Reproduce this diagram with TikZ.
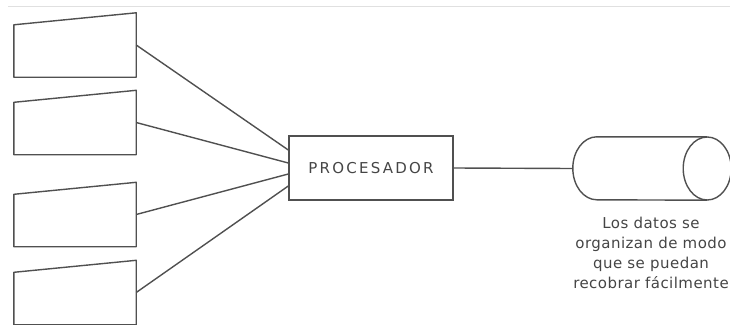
\documentclass[tikz,border=0pt]{standalone}
\usepackage{fontspec}
\setmainfont{DejaVu Sans}
\newfontfamily\procfont[LetterSpace=15]{DejaVu Sans}
\newfontfamily\notafont[LetterSpace=3]{DejaVu Sans}
\usetikzlibrary{calc}
\definecolor{trazo}{HTML}{505050}
\definecolor{texto}{HTML}{454545}

\begin{document}
\begin{tikzpicture}[
  x=1pt, y=1pt,
  entrada/.style={rectangle, minimum width=122pt, minimum height=64pt, inner sep=0pt},
  proc/.style={rectangle, draw=trazo, line width=1.4pt, minimum width=164pt, minimum height=64pt, font=\procfont\fontsize{15}{17}\selectfont, text=texto},
  disco/.style={rectangle, minimum width=158pt, minimum height=63pt, inner sep=0pt},
  linea/.style={draw=trazo, line width=1.4pt}
]
\useasboundingbox (0,0) rectangle (730,-324);

% faint rule along the top
\draw[black!12, line width=1pt] (8,-6) -- (730,-6);

% Processor and storage
\node[proc] (cpu) at (371,-168) {PROCESADOR};
\node[disco] (datos) at (652,-168.5) {};
\draw[linea] ([xshift=-24pt]datos.north east) -- ([xshift=24pt]datos.north west)
  arc[start angle=90, end angle=270, x radius=24pt, y radius=31.5pt] -- ([xshift=-24pt]datos.south east);
\draw[linea] ([xshift=-24pt]datos.east) ellipse [x radius=24pt, y radius=31.5pt];
\draw[linea] (cpu.east) -- (datos.west);

% Note under the storage
\node[align=center, font=\notafont\fontsize{15}{20}\selectfont, text=texto, inner sep=0pt] (nota) at (651,-253)
  {Los datos se\\organizan de modo\\que se puedan\\recobrar fácilmente};

% Manual inputs feeding the processor
\foreach \i/\y/\d in {1/-45/18, 2/-122.5/5, 3/-214.5/-6, 4/-292.5/-18}{
  \node[entrada] (in\i) at (75,\y) {};
  \draw[linea, line join=round] ([yshift=-12pt]in\i.north west) -- (in\i.north east) -- (in\i.south east) -- (in\i.south west) -- cycle;
  \draw[linea] (in\i.east) -- ([yshift=\d pt]cpu.west);
}

\end{tikzpicture}
\end{document}
